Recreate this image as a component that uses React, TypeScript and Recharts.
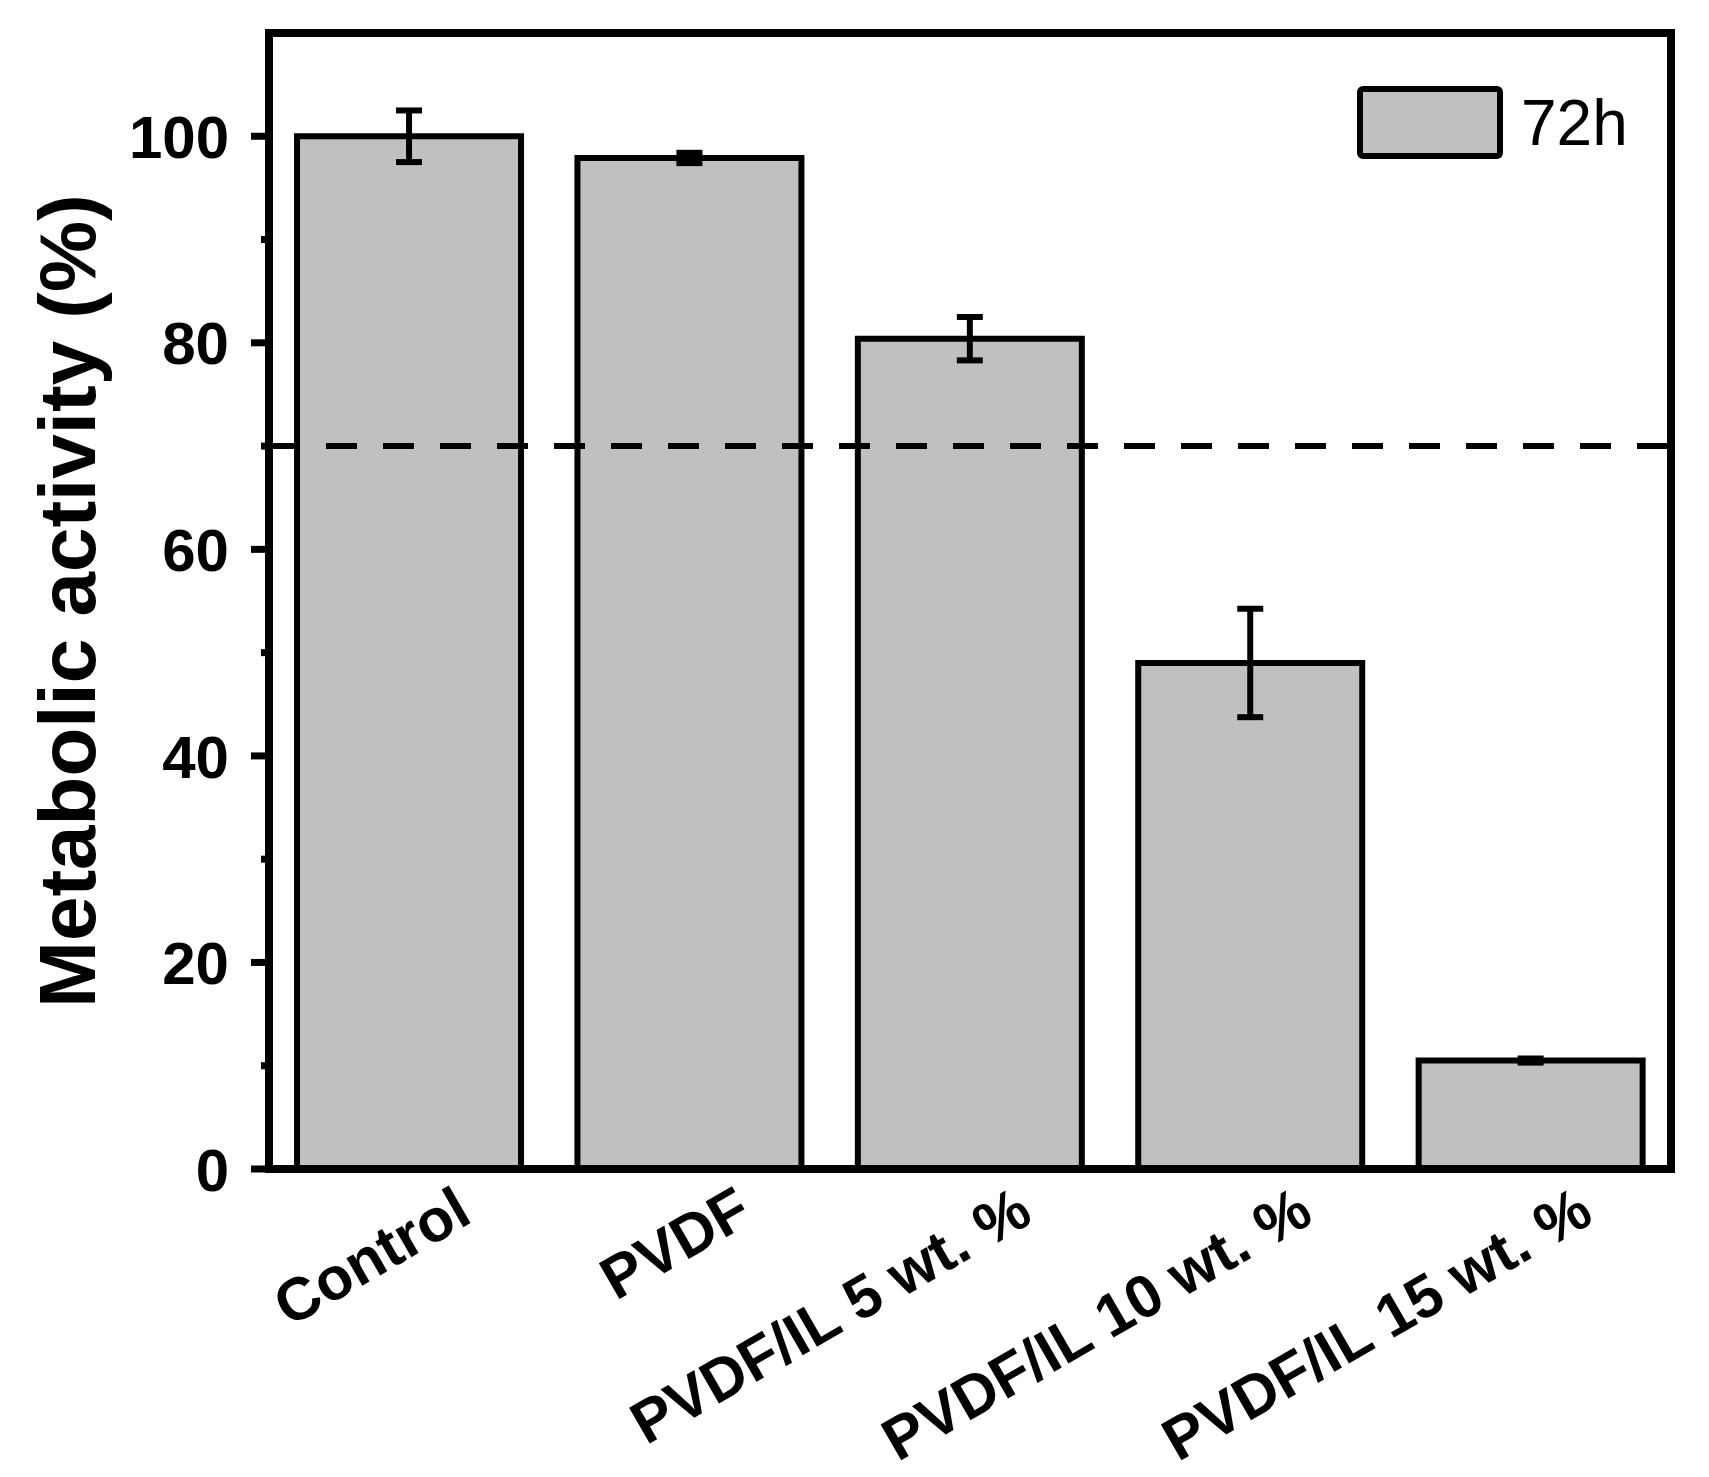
import { Bar, BarChart, ErrorBar, ReferenceLine, XAxis, YAxis } from "recharts";

const categories = ["Control", "PVDF", "PVDF/IL 5 wt. %", "PVDF/IL 10 wt. %", "PVDF/IL 15 wt. %"];
const activity = [100, 97.9, 80.4, 49.0, 10.5];
const activityErr = [2.5, 0.5, 2.1, 5.25, 0.2];
const yTicks = [0, 10, 20, 30, 40, 50, 60, 70, 80, 90, 100];
const threshold = 70;
const seriesName = "72h";
const yTitle = "Metabolic activity (%)";

const data = categories.map((name, i) => ({ name, value: activity[i], err: activityErr[i] }));

const FONT = "'Liberation Sans', Arial, sans-serif";
const axisStyle = { stroke: "#000", strokeWidth: 8, strokeLinecap: "square" as const };

function YTick(props: any) {
    const { x, y, payload } = props;
    const axisX = x + 18;
    const major = payload.value % 20 === 0;
    return (
        <g>
            <line x1={axisX - (major ? 18 : 8)} x2={axisX} y1={y} y2={y} stroke="#000" strokeWidth={7} />
            {major && (
                <text x={axisX - 40} y={y} dy="0.36em" textAnchor="end" fontSize={60} fontWeight="bold" fontFamily={FONT} fill="#000">
                    {payload.value}
                </text>
            )}
        </g>
    );
}

function XTick(props: any) {
    const { x, y, payload } = props;
    const ax = x + 65;
    const ay = y + 52;
    return (
        <text x={ax} y={ay} transform={`rotate(-30 ${ax} ${ay})`} textAnchor="end" fontSize={60} fontWeight="bold" fontFamily={FONT} fill="#000">
            {payload.value}
        </text>
    );
}

function YTitle(props: any) {
    const vb = props.viewBox;
    const tx = vb.x + 95;
    const ty = vb.y + vb.height / 2;
    return (
        <text x={tx} y={ty} transform={`rotate(-90 ${tx} ${ty})`} textAnchor="middle" fontSize={80} fontWeight="bold" fontFamily={FONT} fill="#000">
            {yTitle}
        </text>
    );
}

export default function App() {
    return (
        <div style={{ position: "absolute", left: 0, top: 0, width: 1709, height: 1477, background: "#fff" }}>
            <BarChart
                width={1709}
                height={1477}
                data={data}
                margin={{ top: 32, right: 37, left: 0, bottom: 0 }}
                barCategoryGap="10%"
            >
                <XAxis
                    dataKey="name"
                    interval={0}
                    tickLine={false}
                    tickSize={0}
                    tickMargin={0}
                    height={308}
                    axisLine={axisStyle}
                    tick={<XTick />}
                />
                <XAxis xAxisId="top" orientation="top" dataKey="name" height={1} tick={false} tickLine={false} axisLine={axisStyle} />
                <YAxis
                    domain={[0, 110]}
                    ticks={yTicks}
                    interval={0}
                    width={269}
                    tickLine={false}
                    tickSize={18}
                    tickMargin={0}
                    axisLine={axisStyle}
                    tick={<YTick />}
                    label={{ content: (p: any) => <YTitle {...p} /> }}
                />
                <YAxis yAxisId="right" orientation="right" domain={[0, 110]} width={1} tick={false} tickLine={false} axisLine={axisStyle} />
                <Bar dataKey="value" name={seriesName} fill="#c0c0c0" stroke="#000" strokeWidth={6} isAnimationActive={false}>
                    <ErrorBar dataKey="err" width={13} strokeWidth={6} stroke="#000" direction="y" />
                </Bar>
                <ReferenceLine y={threshold} stroke="#000" strokeWidth={6} strokeDasharray="31 26" />
            </BarChart>
            <div style={{ position: "absolute", left: 1357, top: 86 }}>
                <svg width={300} height={80}>
                    <rect x={3} y={3} width={140} height={67} rx={3} fill="#c0c0c0" stroke="#000" strokeWidth={6} />
                    <text x={164} y={59} fontSize={64} fontFamily={FONT} fill="#000">
                        {seriesName}
                    </text>
                </svg>
            </div>
        </div>
    );
}
